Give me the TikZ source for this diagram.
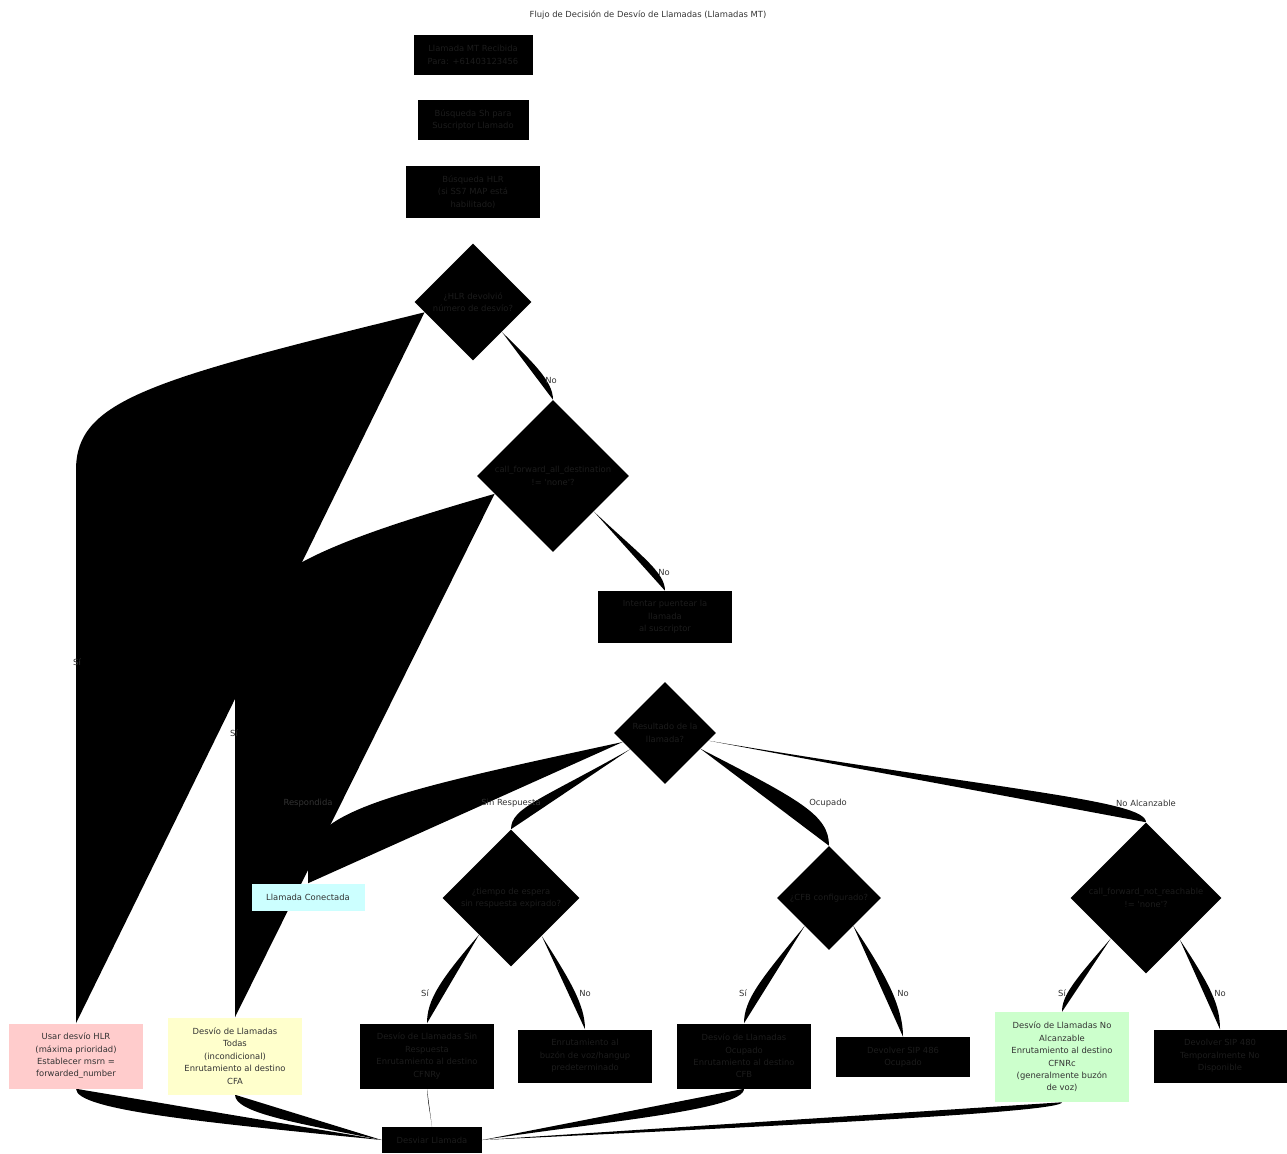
\documentclass[tikz,border=0pt]{standalone}
\usepackage{fontspec}
\setmainfont{DejaVu Sans}
\usetikzlibrary{shapes.geometric}

\definecolor{texto_oscuro}{HTML}{333333}
\definecolor{texto_nodo}{HTML}{1C1C1C}
\definecolor{rosa_hlr}{HTML}{FFCCCC}
\definecolor{amarillo_cfa}{HTML}{FFFFCC}
\definecolor{cian_ok}{HTML}{CCFFFF}
\definecolor{verde_cfnrc}{HTML}{CCFFCC}

\pgfdeclarelayer{etiquetas}
\pgfdeclarelayer{enlaces}
\pgfsetlayers{enlaces,etiquetas,main}

\begin{document}
\begin{tikzpicture}[
    x=0.75pt, y=-0.75pt,
    every node/.style={font=\fontsize{6.3}{9.3}\selectfont},
    proc/.style={rectangle, fill=black, text=texto_nodo, inner sep=0pt,
                 minimum width=100.5pt, align=center},
    fin/.style={rectangle, text=texto_oscuro, inner sep=0pt,
                minimum width=100.5pt, align=center},
    decision/.style={diamond, fill=black, text=texto_nodo, inner sep=0pt,
                     aspect=1, align=center},
    enlace/.style={fill=black, draw=none},
    recto/.style={draw=none},
    etiq/.style={text=texto_oscuro, inner sep=1pt}
]
    \useasboundingbox (0,0) rectangle (1287,1153);

    % Title
    \node[text=texto_oscuro] (titulo) at (648,15)
        {Flujo de Decisión de Desvío de Llamadas (Llamadas MT)};

    % Main column
    \node[proc, minimum width=89.25pt, minimum height=30pt] (inicio) at (473,55)
        {Llamada MT Recibida\\Para: +61403123456};
    \node[proc, minimum width=83.25pt, minimum height=30pt] (sh) at (473,120)
        {Búsqueda Sh para\\Suscriptor Llamado};
    \node[proc, minimum height=39pt] (hlr) at (473,192)
        {Búsqueda HLR\\(si SS7 MAP está\\habilitado)};
    \node[decision, minimum width=87.75pt, minimum height=87.75pt] (dhlr) at (473,302)
        {¿HLR devolvió\\número de desvío?};
    \node[decision, minimum width=114pt, minimum height=114pt] (dcfa) at (553,476)
        {call\_forward\_all\_destination\\!= \textquotesingle none\textquotesingle ?};
    \node[proc, minimum height=39pt] (puente) at (665,617)
        {Intentar puentear la\\llamada\\al suscriptor};
    \node[decision, minimum width=76.5pt, minimum height=76.5pt] (dres) at (665,733)
        {Resultado de la\\llamada?};

    % Second level
    \node[fin, fill=cian_ok, minimum width=84.75pt, minimum height=20.25pt] (conectada) at (308,897)
        {Llamada Conectada};
    \node[decision, minimum width=102.75pt, minimum height=102.75pt] (dnry) at (511,898)
        {¿tiempo de espera\\sin respuesta expirado?};
    \node[decision, minimum width=78pt, minimum height=78pt] (dcfb) at (829,898)
        {¿CFB configurado?};
    \node[decision, minimum width=113.25pt, minimum height=113.25pt] (dnrc) at (1146,898)
        {call\_forward\_not\_reachable\\!= \textquotesingle none\textquotesingle ?};

    % Outcomes
    \node[fin, fill=rosa_hlr, minimum height=48.75pt] (usarhlr) at (76,1056)
        {Usar desvío HLR\\(máxima prioridad)\\Establecer msrn =\\forwarded\_number};
    \node[fin, fill=amarillo_cfa, minimum height=57.75pt] (cfa) at (235,1056)
        {Desvío de Llamadas\\Todas\\(incondicional)\\Enrutamiento al destino\\CFA};
    \node[proc, minimum height=48.75pt] (cfnry) at (427,1056)
        {Desvío de Llamadas Sin\\Respuesta\\Enrutamiento al destino\\CFNRy};
    \node[proc, minimum height=39.75pt] (buzon) at (585,1056)
        {Enrutamiento al\\buzón de voz/hangup\\predeterminado};
    \node[proc, minimum height=48.75pt] (cfb) at (744,1056)
        {Desvío de Llamadas\\Ocupado\\Enrutamiento al destino\\CFB};
    \node[proc, minimum height=30pt] (sip486) at (903,1057)
        {Devolver SIP 486\\Ocupado};
    \node[fin, fill=verde_cfnrc, minimum height=67.5pt] (cfnrc) at (1062,1057)
        {Desvío de Llamadas No\\Alcanzable\\Enrutamiento al destino\\CFNRc\\(generalmente buzón\\de voz)};
    \node[proc, minimum width=99.75pt, minimum height=39.75pt] (sip480) at (1220,1056)
        {Devolver SIP 480\\Temporalmente No\\Disponible};
    \node[proc, minimum width=75pt, minimum height=19.5pt] (desviar) at (432,1140)
        {Desviar Llamada};

    % Edge labels
    \begin{pgfonlayer}{etiquetas}
    \node[etiq] (eSi1) at (77,662) {Sí};
    \node[etiq] (eSi2) at (234,733) {Sí};
    \node[etiq] (eNo1) at (551,380) {No};
    \node[etiq] (eNo2) at (664,572) {No};
    \node[etiq] (eResp) at (308,803) {Respondida};
    \node[etiq] (eSinR) at (511,803) {Sin Respuesta};
    \node[etiq] (eOcup) at (828,803) {Ocupado};
    \node[etiq] (eNoAl) at (1146,803) {No Alcanzable};
    \node[etiq] (eSi3) at (425,993) {Sí};
    \node[etiq] (eNo3) at (585,993) {No};
    \node[etiq] (eSi4) at (743,993) {Sí};
    \node[etiq] (eNo4) at (903,993) {No};
    \node[etiq] (eSi5) at (1062,993) {Sí};
    \node[etiq] (eNo5) at (1220,993) {No};
    \end{pgfonlayer}

    % Connectors
    \begin{pgfonlayer}{enlaces}
    \path[recto] (inicio.south) -- (sh.north);
    \path[recto] (sh.south) -- (hlr.north);
    \path[recto] (hlr.south) -- (dhlr.north);
    \path[enlace] (dhlr.192) .. controls (150,380) and (76,400) .. (76,470) -- (usarhlr.north);
    \path[enlace] (dhlr.314) .. controls (530,360) and (553,380) .. (dcfa.north);
    \path[enlace] (dcfa.197) .. controls (300,550) and (235,580) .. (235,660) -- (cfa.north);
    \path[enlace] (dcfa.319) .. controls (640,555) and (665,572) .. (puente.north);
    \path[recto] (puente.south) -- (dres.north);
    \path[enlace] (dres.192) .. controls (400,790) and (308,810) .. (308,862) -- (conectada.north);
    \path[enlace] (dres.205) .. controls (540,800) and (511,808) .. (dnry.north);
    \path[enlace] (dres.336) .. controls (800,800) and (829,815) .. (dcfb.north);
    \path[enlace] (dres.350) .. controls (1000,790) and (1146,800) .. (dnrc.north);
    \path[enlace] (dnry.229) .. controls (440,980) and (427,1000) .. (cfnry.north);
    \path[enlace] (dnry.309) .. controls (570,980) and (585,1005) .. (buzon.north);
    \path[enlace] (dcfb.229) .. controls (760,980) and (744,1000) .. (cfb.north);
    \path[enlace] (dcfb.311) .. controls (890,980) and (903,1010) .. (sip486.north);
    \path[enlace] (dnrc.229) .. controls (1075,980) and (1062,995) .. (cfnrc.north);
    \path[enlace] (dnrc.309) .. controls (1210,985) and (1220,1005) .. (sip480.north);
    \path[enlace] (usarhlr.south) .. controls (76,1110) and (200,1122) .. (desviar.west);
    \path[enlace] (cfa.south) .. controls (235,1112) and (290,1122) .. (desviar.west);
    \path[enlace] (cfnry.south) .. controls (428,1105) and (430,1112) .. (desviar.north);
    \path[enlace] (cfb.south) .. controls (744,1110) and (600,1122) .. (desviar.east);
    \path[enlace] (cfnrc.south) .. controls (1062,1112) and (800,1125) .. (desviar.east);
    \end{pgfonlayer}

\end{tikzpicture}
\end{document}
